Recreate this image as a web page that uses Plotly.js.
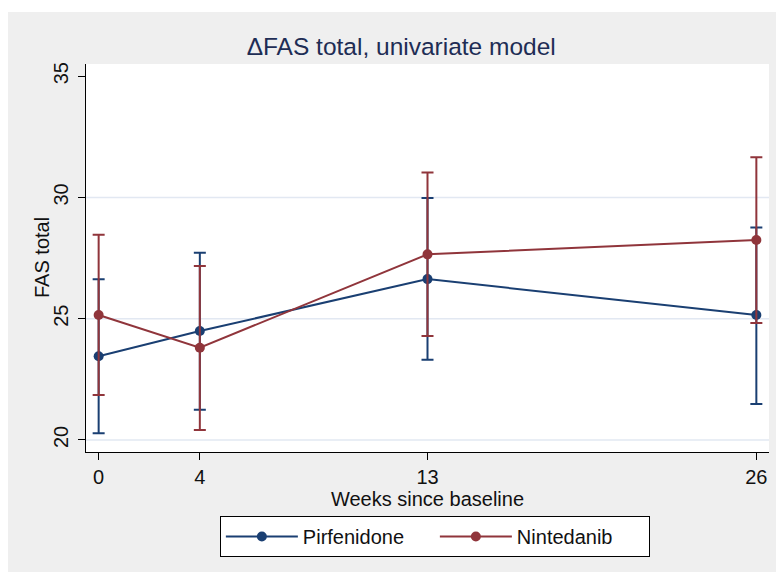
<!DOCTYPE html>
<html>
<head>
<meta charset="utf-8">
<script src="https://cdn.plot.ly/plotly-3.0.1.min.js"></script>
<style>
html,body{margin:0;padding:0;background:#ffffff;}
#chart{position:absolute;left:8px;top:12px;width:768px;height:560px;}
</style>
</head>
<body>
<div id="chart"></div>
<script>
// Data
const weeks = [0, 4, 13, 26];
const pirfMean  = [23.45, 24.49, 26.63, 25.15];
const pirfUpper = [26.62, 27.72, 29.97, 28.76];
const pirfLower = [20.27, 21.24, 23.30, 21.48];
const ninMean   = [25.15, 23.80, 27.65, 28.24];
const ninUpper  = [28.46, 27.17, 31.03, 31.65];
const ninLower  = [21.85, 20.41, 24.28, 24.82];
const xTicks = [0, 4, 13, 26];
const yTicks = [20, 25, 30, 35];
const gridVals = [20, 25, 30];

const blue = '#1a3f72';
const red = '#90353b';
const font = 'Liberation Sans, Arial, sans-serif';

function series(name, mean, up, lo, color) {
  return {
    x: weeks, y: mean, name: name, type: 'scatter', mode: 'lines+markers',
    line: {color: color, width: 2},
    marker: {color: color, size: 10},
    error_y: {
      type: 'data', symmetric: false,
      array: up.map((v, i) => v - mean[i]),
      arrayminus: mean.map((v, i) => v - lo[i]),
      color: color, thickness: 2, width: 6
    }
  };
}

const traces = [
  series('Pirfenidone', pirfMean, pirfUpper, pirfLower, blue),
  series('Nintedanib', ninMean, ninUpper, ninLower, red)
];

const shapes = gridVals.map(v => ({
  type: 'line', xref: 'paper', yref: 'y', x0: 0, x1: 1, y0: v, y1: v,
  line: {color: '#e2e8f2', width: 1.5}, layer: 'below'
}));

const layout = {
  width: 768, height: 560,
  paper_bgcolor: '#efefef', plot_bgcolor: '#ffffff',
  margin: {l: 78, r: 7, t: 52, b: 120},
  font: {family: font, color: '#111111', size: 20},
  title: {text: '\u0394FAS total, univariate model', xref: 'container', x: 0.512, xanchor: 'center',
          yref: 'container', y: 0.938, yanchor: 'middle',
          font: {family: font, size: 24.5, color: '#1e2d55'}},
  xaxis: {
    range: [-0.5, 26.5], tickvals: xTicks, ticktext: xTicks.map(String),
    showgrid: false, zeroline: false, showline: true, linecolor: '#000', linewidth: 1,
    ticks: 'outside', ticklen: 7, tickcolor: '#000', tickwidth: 1,
    tickfont: {size: 20, color: '#111'},
    title: {text: 'Weeks since baseline', standoff: 0, font: {size: 20, color: '#111'}}
  },
  yaxis: {
    range: [19.5, 35.5], tickvals: yTicks, ticktext: yTicks.map(String),
    showgrid: false, zeroline: false, showline: true, linecolor: '#000', linewidth: 1,
    ticks: 'outside', ticklen: 7, tickcolor: '#000', tickwidth: 1, tickangle: -90,
    ticklabelstandoff: 2,
    tickfont: {size: 20, color: '#111'}
  },
  annotations: [{
    text: 'FAS total', xref: 'paper', yref: 'paper', x: 0, y: 0.5,
    xanchor: 'center', yanchor: 'middle', xshift: -44, textangle: -90, showarrow: false,
    font: {size: 20, color: '#111'}
  }],
  shapes: shapes,
  showlegend: true,
  legend: {
    orientation: 'h', x: 0.196, xanchor: 'left', y: -0.165, yanchor: 'top',
    bgcolor: '#ffffff', bordercolor: '#000000', borderwidth: 1,
    itemwidth: 72, font: {size: 20, color: '#111'},
    entrywidth: 127, entrywidthmode: 'pixels'
  }
};

Plotly.newPlot('chart', traces, layout, {displayModeBar: false});
</script>
</body>
</html>
